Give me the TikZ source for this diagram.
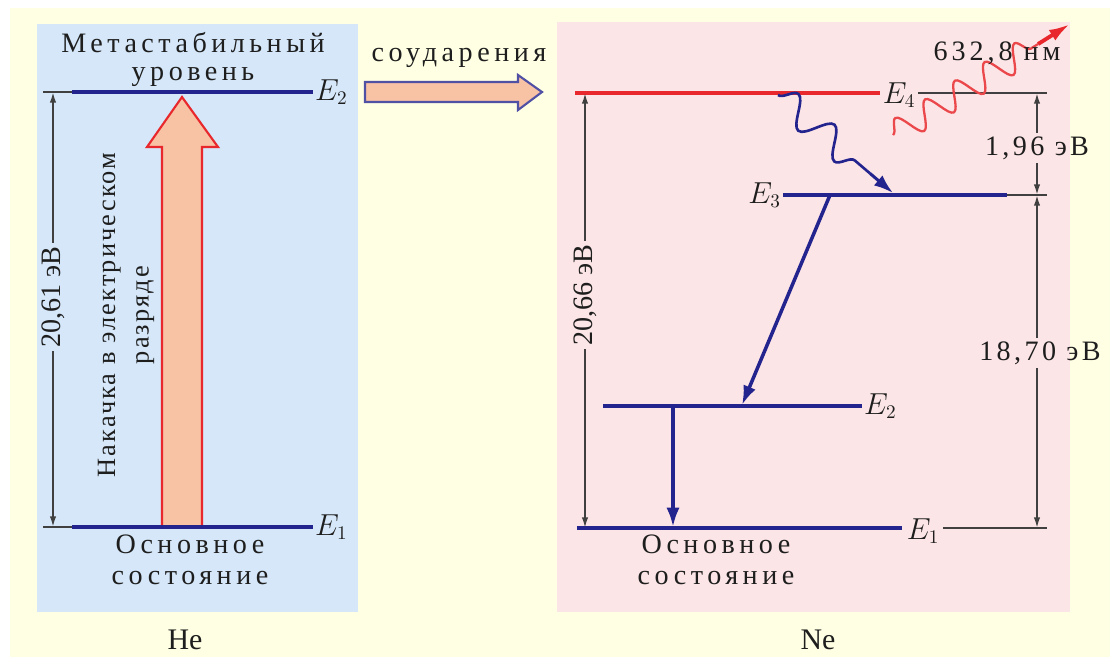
\documentclass[tikz,border=0pt]{standalone}
\usepackage{fontspec}
\setmainfont{Liberation Serif}
\newfontfamily\widefont[LetterSpace=16]{Liberation Serif}
\newfontfamily\pumpfont[LetterSpace=8]{Liberation Serif}
\usetikzlibrary{arrows.meta, decorations.pathmorphing, calc, positioning}
\definecolor{mycream}{HTML}{FFFFE3}
\definecolor{myblue}{HTML}{D5E7F8}
\definecolor{mypink}{HTML}{FCE5E6}
\definecolor{mynavy}{HTML}{24248F}
\definecolor{myred}{HTML}{E8282C}
\definecolor{mypeach}{HTML}{F8C2A4}
\definecolor{mytext}{HTML}{1E1E1E}
\tikzset{
	levelline/.style={
			line width=1.9pt,
			mynavy
		},
	redline/.style={
			levelline,
			myred
		},
	dimline/.style={
			line width=1pt,
			black!75
		},
	dimarrow/.style={
			dimline,
			-{Latex[length=6pt, width=3.6pt]}
		},
	transarrow/.style={
			line width=2pt,
			mynavy,
			-{Latex[length=11pt, width=7.5pt]}
		},
	fatarrow/.style={
			fill=mypeach,
			line width=1.2pt,
			line join=miter
		},
	elabel/.style={
			inner sep=1pt,
			text=mytext,
			font=\fontsize{16}{16}\selectfont
		},
	wordtext/.style={
			inner sep=0pt,
			align=center,
			text=mytext,
			font=\widefont\fontsize{16}{17.8}\selectfont
		},
	numtext/.style={
			inner sep=2pt,
			text=mytext,
			font=\fontsize{16}{16}\selectfont
		},
	photon/.style={
			decorate,
			decoration={snake, amplitude=#1}
		}
}

\begin{document}
\begin{tikzpicture}[x=0.02cm, y=-0.02cm]
\useasboundingbox (0,0) rectangle (1110,657);
\fill[white] (0,0) rectangle (1110,657);
\fill[mycream] (10,8) rectangle (1110,657);
\fill[myblue] (37,24) rectangle (358,612);
\fill[mypink] (557,22) rectangle (1070,612);

    % He
    \coordinate (he2a) at (43,92);
    \coordinate (he2b) at (72,92);
    \coordinate (he2c) at (313,92);
    \coordinate (he1a) at (43,527);
    \coordinate (he1b) at (72,527);
    \coordinate (he1c) at (313,527);
    \coordinate (hedimtop) at (53,92);
    \coordinate (hedimbot) at (53,527);

    \draw[fatarrow, draw=myred] (162,527) -- (162,147) -- (147,147) -- (182,97)
        -- (218,147) -- (202,147) -- (202,527) -- cycle;

    \draw[dimline] (he2a) -- (he2b);
    \draw[levelline] (he2b) -- (he2c);
    \draw[dimline] (he1a) -- (he1b);
    \draw[levelline] (he1b) -- (he1c);

    \node[elabel, anchor=west] (he2lab) at (he2c) {$E_2$};
    \node[elabel, anchor=west] (he1lab) at (he1c) {$E_1$};
    \node[wordtext] (meta) at (193,43) {Метастабильный};
    \node[wordtext] (metab) at (193,77) {уровень};
    \node[wordtext] (heground) at (190,560) {Основное\\состояние};
    \node[wordtext, font=\pumpfont\fontsize{15}{19}\selectfont, rotate=90] (pump) at (126,315) {Накачка в электрическом\\разряде};
    \node[numtext, fill=myblue, rotate=90] (hedim) at (53,297) {20,61 эВ};
    \draw[dimarrow] (hedim.east) -- (hedimtop);
    \draw[dimarrow] (hedim.west) -- (hedimbot);
    \node[numtext, font=\fontsize{17}{17}\selectfont] (he) at (185,640) {He};

    % collision
    \draw[fatarrow, draw=mynavy!80] (365,82) -- (518,82) -- (518,75) -- (542,92)
        -- (518,110) -- (518,102) -- (365,102) -- cycle;
    \node[wordtext] (coll) at (459,58) {соударения};

    % Ne
    \coordinate (ne4a) at (575,93);
    \coordinate (ne4b) at (880,93);
    \coordinate (ne4c) at (918,93);
    \coordinate (ne4d) at (1047,93);
    \coordinate (ne3a) at (783,195);
    \coordinate (ne3b) at (1007,195);
    \coordinate (ne3c) at (1047,195);
    \coordinate (ne2a) at (603,406);
    \coordinate (ne2b) at (862,406);
    \coordinate (ne1a) at (577,528);
    \coordinate (ne1b) at (902,528);
    \coordinate (ne1c) at (943,528);
    \coordinate (ne1d) at (1047,528);

    \draw[redline] (ne4a) -- (ne4b);
    \draw[dimline] (ne4c) -- (ne4d);
    \draw[levelline] (ne3a) -- (ne3b);
    \draw[dimline] (ne3b) -- (ne3c);
    \draw[levelline] (ne2a) -- (ne2b);
    \draw[levelline] (ne1a) -- (ne1b);
    \draw[dimline] (ne1c) -- (ne1d);

    \node[elabel] (ne4lab) at (899,95) {$E_4$};
    \node[elabel, anchor=east] (ne3lab) at (ne3a) {$E_3$};
    \node[elabel, anchor=west] (ne2lab) at (ne2b) {$E_2$};
    \node[elabel] (ne1lab) at (923,531) {$E_1$};

    \coordinate (t32a) at (830,195);
    \coordinate (t32b) at (742,405);
    \coordinate (t21a) at (673,406);
    \coordinate (t21b) at (673,527);
    \draw[transarrow] (t32a) -- (t32b);
    \draw[transarrow] (t21a) -- (t21b);

    \coordinate (w43a) at (778,95);
    \coordinate (w43b) at (893,193);
    \coordinate (w43m) at ($(w43a)!0.8!(w43b)$);
    \draw[mynavy, line width=1.5pt, photon=8pt, decoration={segment length=27pt}] (w43a) -- (w43m);
    \draw[transarrow, line width=1.7pt] (w43m) -- (w43b);

    \coordinate (wlasa) at (893,135);
    \coordinate (wlasb) at (1070,24);
    \coordinate (wlasm) at ($(wlasa)!0.82!(wlasb)$);
    \draw[myred!85, line width=1.3pt, photon=7.5pt, decoration={segment length=20pt}] (wlasa) -- (wlasm);
    \draw[myred, line width=2.2pt, -{Latex[length=12pt, width=7pt]}] (wlasm) -- (wlasb);
    \node[numtext, font=\fontsize{16}{16}\selectfont\addfontfeature{LetterSpace=14}] (lambda) at (997,53) {632,8 нм};

    \coordinate (nedimtop) at (585,93);
    \coordinate (nedimbot) at (585,528);
    \node[numtext, rotate=90] (nedim) at (585,295) {20,66 эВ};
    \draw[dimarrow] (nedim.east) -- (nedimtop);
    \draw[dimarrow] (nedim.west) -- (nedimbot);

    \coordinate (r4) at (1037,93);
    \coordinate (r3) at (1037,195);
    \coordinate (r1) at (1037,528);
    \node[numtext, font=\fontsize{16}{16}\selectfont\addfontfeature{LetterSpace=12}] (gap43) at (1037,148) {1,96 эВ};
    \node[numtext, font=\fontsize{16}{16}\selectfont\addfontfeature{LetterSpace=12}] (gap31) at (1040,353) {18,70 эВ};
    \draw[dimarrow] (gap43.north -| r4) -- (r4);
    \draw[dimarrow] (gap43.south -| r4) -- (r3);
    \draw[dimarrow] (gap31.north -| r4) -- (r3);
    \draw[dimarrow] (gap31.south -| r4) -- (r1);

    \node[wordtext] (neground) at (716,560) {Основное\\состояние};
    \node[numtext, font=\fontsize{17}{17}\selectfont] (ne) at (818,640) {Ne};

\end{tikzpicture}
\end{document}
